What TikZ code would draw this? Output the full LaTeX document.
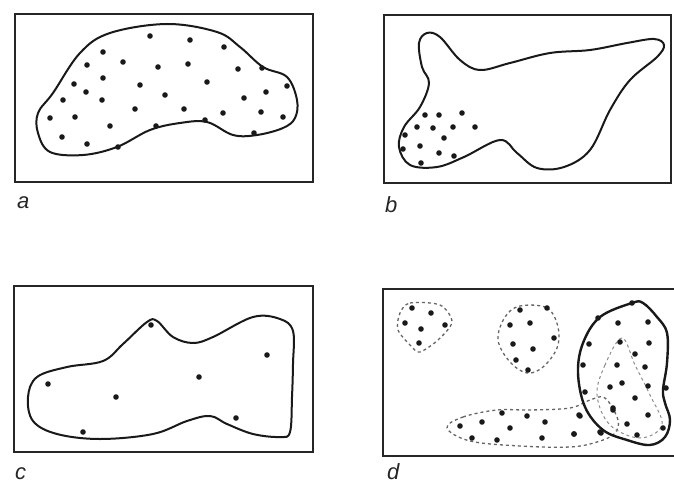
\documentclass[tikz,border=0pt]{standalone}
\usepackage{fontspec}
\setmainfont{Liberation Sans}
\begin{document}
\begin{tikzpicture}[x=1pt,y=-1pt,
  frame/.style={line width=1.9pt, draw=black!85},
  blob/.style={line width=2pt, draw=black!90},
  dblob/.style={line width=1.3pt, draw=black!60, dash pattern=on 3pt off 3pt},
  dot/.style={fill=black!90},
  lab/.style={font=\fontsize{22}{26}\selectfont\itshape, inner sep=0pt, anchor=base west, text=black!85}]
\useasboundingbox (0,0) rectangle (674,484);
\newcommand{\mydots}[1]{\foreach \p in {#1} \fill[dot] \p circle (2.8pt);}
% ---------- a ----------
\draw[frame] (15,14) rectangle (313,182);
\draw[blob] plot[smooth cycle, tension=0.6] coordinates {(38,113) (53,93) (80,53) (110,33) (167,24) (217,32) (240,47) (263,67) (287,77) (297,100) (295,118) (283,128) (257,135) (233,135) (207,122) (180,123) (150,130) (117,147) (83,155) (50,152) (38,133)};
\mydots{(150,36),(190,40),(224,47),(103,52),(87,65),(123,62),(158,67),(188,64),(238,69),(262,68),(74,84),(103,78),(140,85),(207,82),(287,86),(86,92),(165,95),(266,92),(244,98),(63,100),(102,100),(135,109),(184,109),(223,113),(261,112),(283,117),(50,118),(75,117),(205,120),(110,126),(156,126),(62,137),(87,144),(118,147),(254,133)}
\node[lab] (la) at (17,208) {a};
% ---------- b ----------
\draw[frame] (384,15) rectangle (671,183);
\draw[blob] plot[smooth cycle, tension=0.6] coordinates {(427,33) (419,43) (422,67) (429,83) (420,107) (404,127) (399,147) (410,165) (437,167) (464,157) (500,140) (517,153) (537,168) (564,167) (590,150) (610,110) (630,80) (657,57) (664,45) (654,39) (627,43) (590,50) (550,53) (510,63) (480,70) (460,60) (440,37)};
\mydots{(425,115),(439,115),(462,113),(417,127),(433,128),(453,127),(475,127),(405,135),(444,138),(420,146),(403,149),(439,153),(454,156),(421,163)}
\node[lab] (lb) at (385,212) {b};
% ---------- c ----------
\draw[frame] (14,286) rectangle (313,452);
\draw[blob] plot[smooth cycle, tension=0.6] coordinates {(28,397) (37,377) (67,367) (103,361) (123,344) (147,322) (157,321) (173,337) (193,343) (213,337) (253,317) (280,319) (293,331) (293,364) (292,397) (290,432) (280,437) (253,434) (227,424) (210,416) (187,421) (153,434) (100,439) (57,434) (33,421)};
\mydots{(151,325),(267,355),(199,377),(48,384),(116,397),(236,418),(83,432)}
\node[lab] (lc) at (15,479) {c};
% ---------- d ----------
\draw[frame] (383,289) rectangle (680,456);
\draw[dblob] plot[smooth cycle, tension=0.5] coordinates {(400,313) (410,303) (440,305) (452,322) (438,340) (420,352) (412,347) (398,330)};
\mydots{(412,308),(431,313),(405,323),(421,329),(445,325),(419,343)}
\draw[dblob] plot[smooth cycle, tension=0.6] coordinates {(520,306) (547,308) (558,327) (557,348) (543,367) (527,373) (510,362) (498,340) (505,317)};
\mydots{(520,310),(547,308),(510,325),(530,323),(554,338),(513,344),(533,349),(516,360),(528,370)}
\draw[dblob] plot[smooth cycle, tension=0.6] coordinates {(447,428) (463,417) (497,410) (530,410) (570,408) (590,400) (605,398) (618,420) (614,434) (597,442) (570,447) (520,446) (470,441)};
\mydots{(460,426),(482,422),(502,413),(510,428),(527,416),(545,422),(472,438),(497,440),(542,438),(574,434),(580,416),(600,432),(613,410)}
\draw[dblob, line width=1pt, draw=black!45] plot[smooth cycle, tension=0.6] coordinates {(622,338) (605,365) (597,395) (610,425) (640,438) (662,425) (650,395) (635,365)};
\draw[blob, line width=2.4pt] plot[smooth cycle, tension=0.6] coordinates {(632,303) (600,317) (583,343) (578,373) (585,407) (603,430) (627,440) (650,445) (665,437) (670,420) (665,403) (663,390) (667,363) (667,333) (657,317) (643,303)};
\mydots{(632,303),(618,323),(648,322),(598,318),(589,344),(620,342),(649,343),(635,354),(617,365),(645,367),(583,365),(610,387),(622,383),(648,386),(635,398),(585,392),(613,408),(648,415),(627,424),(601,433),(637,435),(666,388),(663,428),(579,415),(574,434)}
\node[lab] (ld) at (387,479) {d};
\end{tikzpicture}
\end{document}
